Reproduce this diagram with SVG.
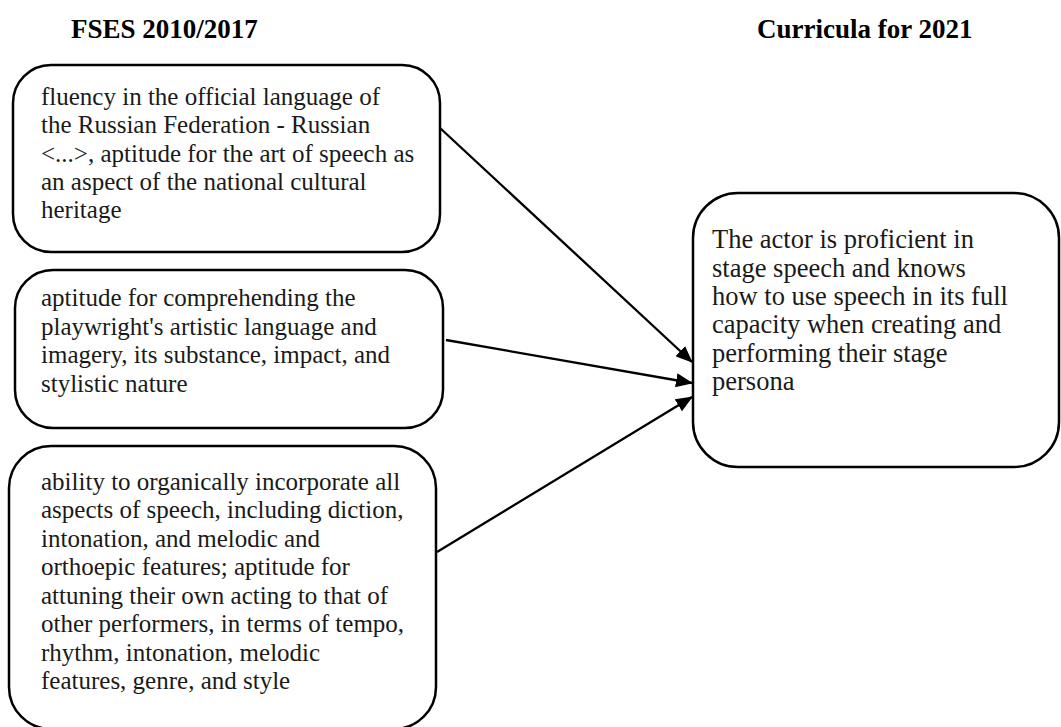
<svg xmlns="http://www.w3.org/2000/svg" width="1061" height="727" viewBox="0 0 1061 727">
<style>
.box{fill:#fff;stroke:#000;stroke-width:2.5}
.t{font-family:"Liberation Serif","Times New Roman",serif;font-size:25px;fill:#1a1a1a}
.tr{font-family:"Liberation Serif","Times New Roman",serif;font-size:26.5px;fill:#1a1a1a}
.h{font-family:"Liberation Serif","Times New Roman",serif;font-size:27px;font-weight:bold;fill:#000}
.c{stroke:#000;stroke-width:2.3;fill:none}
</style>
<defs>
<marker id="ah" markerWidth="17" markerHeight="14" refX="16" refY="7" orient="auto" markerUnits="userSpaceOnUse">
<path d="M0,0 L17,7 L0,14 Z" fill="#000"/>
</marker>
</defs>
<rect width="1061" height="727" fill="#fff"/>
<text class="h" x="71" y="38">FSES 2010/2017</text>
<text class="h" x="757" y="38">Curricula for 2021</text>
<g id="n1">
<rect class="box" x="13" y="65" width="427" height="187" rx="38"/>
<text class="t" x="41" y="105">fluency in the official language of</text>
<text class="t" x="41" y="133">the Russian Federation - Russian</text>
<text class="t" x="41" y="162">&lt;...&gt;, aptitude for the art of speech as</text>
<text class="t" x="41" y="190">an aspect of the national cultural</text>
<text class="t" x="41" y="218">heritage</text>
</g>
<g id="n2">
<rect class="box" x="15" y="270" width="428" height="158" rx="38"/>
<text class="t" x="41" y="306">aptitude for comprehending the</text>
<text class="t" x="41" y="335">playwright's artistic language and</text>
<text class="t" x="41" y="363">imagery, its substance, impact, and</text>
<text class="t" x="41" y="392">stylistic nature</text>
</g>
<g id="n3">
<rect class="box" x="9" y="446" width="427" height="283" rx="42"/>
<text class="t" x="41" y="490">ability to organically incorporate all</text>
<text class="t" x="41" y="518">aspects of speech, including diction,</text>
<text class="t" x="41" y="547">intonation, and melodic and</text>
<text class="t" x="41" y="575">orthoepic features; aptitude for</text>
<text class="t" x="41" y="604">attuning their own acting to that of</text>
<text class="t" x="41" y="632">other performers, in terms of tempo,</text>
<text class="t" x="41" y="661">rhythm, intonation, melodic</text>
<text class="t" x="41" y="689">features, genre, and style</text>
</g>
<g id="n4">
<rect class="box" x="693" y="193" width="366" height="274" rx="45"/>
<text class="tr" x="712" y="248">The actor is proficient in</text>
<text class="tr" x="712" y="277">stage speech and knows</text>
<text class="tr" x="712" y="305">how to use speech in its full</text>
<text class="tr" x="712" y="333">capacity when creating and</text>
<text class="tr" x="712" y="362">performing their stage</text>
<text class="tr" x="712" y="390">persona</text>
</g>
<g id="connectors">
<line class="c" x1="440" y1="128" x2="692" y2="362" marker-end="url(#ah)"/>
<line class="c" x1="446" y1="340" x2="692" y2="383" marker-end="url(#ah)"/>
<line class="c" x1="437" y1="552" x2="692" y2="397" marker-end="url(#ah)"/>
</g>
</svg>
